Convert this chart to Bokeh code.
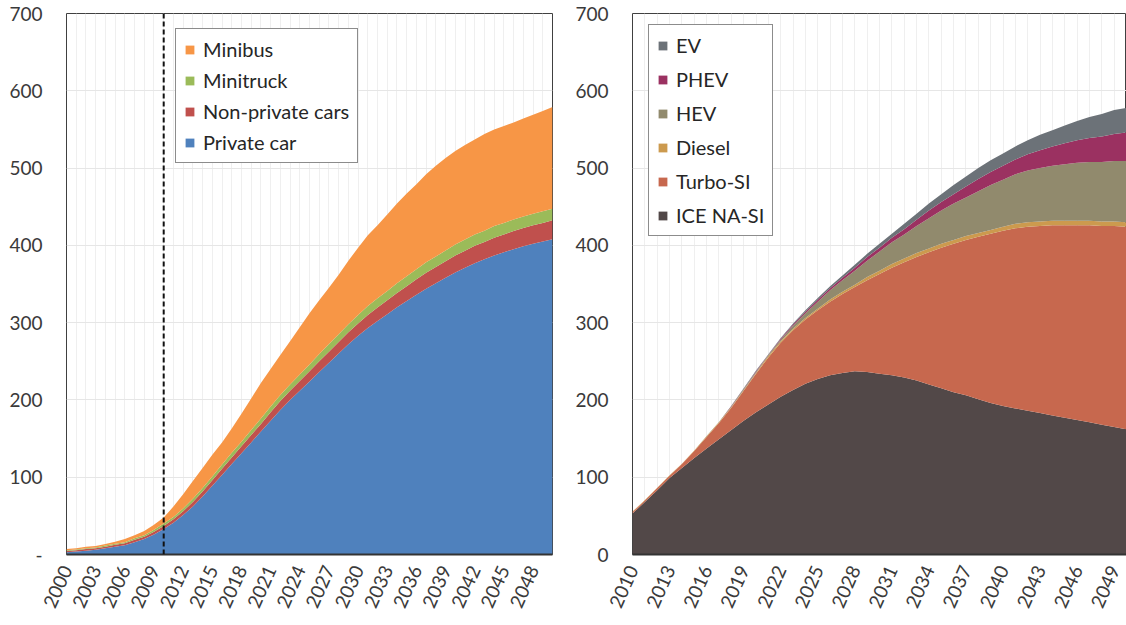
from bokeh.plotting import figure
from bokeh.models import Range1d, FixedTicker, Span, Legend, LegendItem, ColumnDataSource
from bokeh.layouts import row
from bokeh.embed import file_html
from bokeh.resources import INLINE

# ---------------- data: left chart (vehicle stock by type) ----------------
years_a = list(range(2000, 2051))
private_car = [3, 4, 5, 6, 8, 10, 12, 16, 20, 26,
               33, 41, 51, 62, 75, 89, 103, 117, 131, 145,
               159, 173, 187, 200, 212, 224, 236, 248, 260, 272,
               283, 293, 302, 311, 320, 328, 336, 344, 351, 358,
               365, 371, 377, 382, 387, 391, 395, 399, 402, 405,
               408]
non_private_cars = [1.5, 1.5, 2, 2, 2, 2.5, 2.5, 3, 3, 3.5,
                    4, 4.5, 5, 6, 6.5, 7, 8, 8.5, 9, 9.5,
                    10, 11, 11.5, 12, 12.5, 13, 14, 14.5, 15, 15.5,
                    16, 17, 17.5, 18, 18.5, 19, 20, 20.5, 21, 21.5,
                    22, 22, 22.5, 22.5, 23, 23, 23.5, 23.5, 24, 24,
                    24.5]
minitruck = [1, 1, 1, 1, 1.5, 1.5, 1.5, 2, 2, 2.5,
             3, 3, 3.5, 4, 4.5, 5, 5.5, 6, 6, 6.5,
             7, 7.5, 8, 8, 8.5, 9, 9.5, 10, 10, 10.5,
             11, 11.5, 12, 12, 12.5, 13, 13, 13.5, 13.5, 14,
             14, 14.5, 14.5, 14.5, 15, 15, 15, 15, 15, 15,
             15]
minibus = [1.5, 1.5, 2, 2, 2, 2.5, 4, 4, 5.5, 6.5,
           8, 13.5, 18.5, 23, 26, 28, 28.5, 31.5, 36, 41,
           46, 48.5, 51.5, 56, 61, 66, 69.5, 72.5, 77, 82,
           87, 91.5, 94.5, 99, 103, 107, 110, 114, 117.5, 119.5,
           121, 122.5, 123, 125, 125, 125.5, 125.5, 126.5, 128, 130,
           131.5]
ticks_a = [2000, 2003, 2006, 2009, 2012, 2015, 2018, 2021, 2024, 2027,
           2030, 2033, 2036, 2039, 2042, 2045, 2048]
split_year = 2010

# ---------------- data: right chart (powertrain mix) ----------------
years_b = list(range(2010, 2051))
ice_na_si = [53, 68, 83, 99, 112, 125, 137, 149, 161, 173,
             184, 194, 204, 213, 221, 227, 232, 235, 237, 236,
             234, 232, 229, 225, 220, 215, 210, 206, 201, 196,
             192, 189, 186, 183, 180, 177, 174, 171, 168, 165,
             162]
turbo_si = [2, 2, 3, 3, 5, 9, 15, 21, 29, 39,
            50, 61, 70, 77, 83, 89, 95, 102, 109, 119,
            129, 139, 149, 160, 171, 182, 192, 201, 210, 219,
            227, 233, 238, 242, 246, 249, 252, 255, 257, 260,
            262]
diesel = [0.5, 0.5, 0.5, 0.5, 0.5, 0.5, 1, 1, 1, 1,
          1, 2, 2, 2, 2, 2, 3, 3, 3, 4,
          4, 5, 5, 5, 5, 5, 5, 5, 5, 5,
          5, 6, 6, 6, 6, 6, 6, 6, 6, 6,
          6]
hev = [0, 0, 0, 0, 0, 0, 0.3, 0.5, 0.5, 1,
       1, 1, 2, 4, 6, 9, 12, 15, 18, 21,
       25, 28, 31, 35, 39, 43, 47, 50, 54, 58,
       61, 64, 67, 69, 71, 73, 75, 76, 77, 78,
       79]
phev = [0, 0, 0, 0, 0, 0, 0, 0, 0.5, 0.5,
        1, 0.5, 1, 1.5, 2, 2.5, 2.5, 3, 4, 5,
        5, 6, 7, 8, 10, 11, 12, 14, 16, 17,
        18, 19, 21, 23, 25, 27, 29, 31, 33, 35,
        37]
ev = [0, 0, 0, 0, 0, 0, 0, 0, 0.5, 0.5,
      1, 0.5, 1, 1.5, 2, 2.5, 2.5, 3, 4, 4,
      5, 5, 7, 8, 9, 10, 12, 13, 14, 15,
      16, 17, 18, 20, 21, 23, 25, 27, 29, 31,
      32]
ticks_b = [2010, 2013, 2016, 2019, 2022, 2025, 2028, 2031, 2034, 2037,
           2040, 2043, 2046, 2049]

y_ticks = [0, 100, 200, 300, 400, 500, 600, 700]

FONT = "Lato"
TXT = "#3a3a3a"


def base_fig(xr, xt, grid_years, width, mb_left, mb_right):
    p = figure(width=width, height=620, x_range=Range1d(*xr), y_range=Range1d(0, 700),
               output_backend="svg", toolbar_location=None,
               min_border_left=mb_left, min_border_right=mb_right,
               min_border_top=13, min_border_bottom=66)
    p.outline_line_color = "#404040"
    p.outline_line_width = 1
    p.background_fill_color = "white"
    p.border_fill_color = "white"
    p.xaxis.ticker = FixedTicker(ticks=xt)
    p.yaxis.ticker = FixedTicker(ticks=y_ticks)
    p.xgrid.ticker = FixedTicker(ticks=grid_years)
    p.xgrid.grid_line_color = "#efefef"
    p.ygrid.grid_line_color = "#e6e6e6"
    for ax in (p.xaxis[0], p.yaxis[0]):
        ax.major_tick_line_color = None
        ax.minor_tick_line_color = None
        ax.major_tick_out = 0
        ax.major_tick_in = 0
        ax.major_label_text_font = FONT
        ax.major_label_text_font_size = "19px"
        ax.major_label_text_color = TXT
    p.yaxis.axis_line_color = None
    p.xaxis.axis_line_color = "#333333"
    p.xaxis.axis_line_width = 2
    p.xaxis.major_label_orientation = 1.15
    p.xaxis.major_label_standoff = 12
    p.yaxis.major_label_standoff = 24
    return p


def style_legend(lg, spacing, padding):
    lg.border_line_color = "#1a1a1a"
    lg.border_line_width = 1.5
    lg.background_fill_color = "white"
    lg.background_fill_alpha = 1
    lg.label_text_font = FONT
    lg.label_text_font_size = "20px"
    lg.label_text_color = "#262626"
    lg.glyph_width = 11
    lg.glyph_height = 11
    lg.label_height = 24
    lg.label_standoff = 8
    lg.spacing = spacing
    lg.padding = padding
    lg.margin = 0


# ---------------- left chart ----------------
src_a = ColumnDataSource(dict(year=years_a, private=private_car, nonpriv=non_private_cars,
                              minitruck=minitruck, minibus=minibus))
p1 = base_fig((2000, 2050), ticks_a, years_a, 562, 66, 10)
p1.yaxis.major_label_overrides = {0: "-"}
cols_a = ["#4f81bd", "#c0504d", "#9bbb59", "#f79646"]
ra = p1.varea_stack(["private", "nonpriv", "minitruck", "minibus"], x="year",
                    color=cols_a, source=src_a)
p1.add_layout(Span(location=split_year, dimension="height", line_color="#111111",
                   line_width=2, line_dash="5 3"))
leg1 = Legend(items=[LegendItem(label="Minibus", renderers=[ra[3]]),
                     LegendItem(label="Minitruck", renderers=[ra[2]]),
                     LegendItem(label="Non-private cars", renderers=[ra[1]]),
                     LegendItem(label="Private car", renderers=[ra[0]])],
              location=(109, 391))
style_legend(leg1, 7, 8)
p1.add_layout(leg1)

# ---------------- right chart ----------------
src_b = ColumnDataSource(dict(year=years_b, ice=ice_na_si, turbo=turbo_si, diesel=diesel,
                              hev=hev, phev=phev, ev=ev))
p2 = base_fig((2010, 2050), ticks_b, years_b, 564, 70, 0)
cols_b = ["#524848", "#c7684e", "#cc9a4e", "#918a6d", "#9b3161", "#6c7278"]
rb = p2.varea_stack(["ice", "turbo", "diesel", "hev", "phev", "ev"], x="year",
                    color=cols_b, source=src_b)
leg2 = Legend(items=[LegendItem(label="EV", renderers=[rb[5]]),
                     LegendItem(label="PHEV", renderers=[rb[4]]),
                     LegendItem(label="HEV", renderers=[rb[3]]),
                     LegendItem(label="Diesel", renderers=[rb[2]]),
                     LegendItem(label="Turbo-SI", renderers=[rb[1]]),
                     LegendItem(label="ICE NA-SI", renderers=[rb[0]])],
              location=(16, 318))
style_legend(leg2, 10, 8)
p2.add_layout(leg2)

layout = row(p1, p2)
open("out.html", "w").write(file_html(layout, INLINE))
